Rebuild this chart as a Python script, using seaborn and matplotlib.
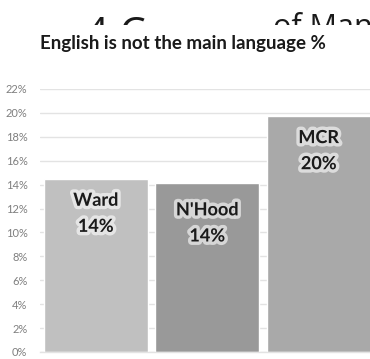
import matplotlib
matplotlib.use("Agg")
import matplotlib.pyplot as plt
import matplotlib.patheffects as pe
from matplotlib.patches import Rectangle
import seaborn as sns
import pandas as pd

categories = ["Ward", "N'Hood", "MCR"]
values = [0.1445, 0.1417, 0.1975]
bar_colors = ["#c0c0c0", "#999999", "#a9a9a9"]
yticks = [0.00, 0.02, 0.04, 0.06, 0.08, 0.10, 0.12, 0.14, 0.16, 0.18, 0.20, 0.22]
title = "English is not the main language %"

sns.set_theme(style="white")
plt.rcParams["font.family"] = ["Lato", "DejaVu Sans"]

W, H = 370, 359
fig = plt.figure(figsize=(W / 100, H / 100), dpi=100)

# plot area in pixel terms
left_px, right_px = 40, 374.5
bottom_px, top_px = 352, 89
ax = fig.add_axes([left_px / W, (H - bottom_px) / H,
                   (right_px - left_px) / W, (bottom_px - top_px) / H])
ax.set_zorder(3)

df = pd.DataFrame({"cat": categories, "val": values})
sns.barplot(data=df, x="cat", y="val", hue="cat", palette=bar_colors,
            legend=False, width=0.935, ax=ax, saturation=1)

ax.set_xlim(-0.5, 2.5)
ax.set_ylim(0, 0.22)
ax.set_yticks(yticks)
ax.set_yticklabels([f"{t:.0%}" for t in yticks], color="#7f7f7f", fontsize=8)
ax.set_xticks([])
ax.set_xlabel("")
ax.set_ylabel("")
ax.tick_params(axis="y", length=0, pad=9)
ax.yaxis.grid(True, color="#e3e3e3", linewidth=1)
ax.set_axisbelow(True)
for side in ["top", "right", "left"]:
    ax.spines[side].set_visible(False)
ax.spines["bottom"].set_color("#e3e3e3")
ax.spines["bottom"].set_linewidth(1)

# value labels sit just inside the top of each bar
glow = [pe.withStroke(linewidth=5, foreground="white", alpha=0.6)]
label_drop_pt = [9, 13.5, 9.5]
for i, (c, v) in enumerate(zip(categories, values)):
    ax.annotate(f"{c}\n{v:.0%}", xy=(i, v), xytext=(0, -label_drop_pt[i]),
                textcoords="offset points", ha="center", va="top",
                fontsize=13, fontweight="bold", color="#1a1a1a",
                linespacing=1.65, path_effects=glow)

# large page heading, partly hidden behind the chart panel
fig.text(85 / W, 1 - 47 / H, "4 C", ha="left", va="baseline",
         fontsize=30, color="#1a1a1a", family=["Open Sans", "DejaVu Sans"],
         zorder=1)
fig.text(273 / W, 1 - 36 / H, "of Man", ha="left", va="baseline",
         fontsize=22, color="#1a1a1a", family=["Open Sans", "DejaVu Sans"],
         zorder=1)
fig.add_artist(Rectangle((0, 0), 1, 1 - 25 / H, transform=fig.transFigure,
                         facecolor="white", edgecolor="none", zorder=2))

fig.text(183 / W, 1 - 44 / H, title, ha="center", va="center",
         fontsize=13.5, fontweight="bold", color="#1a1a1a", zorder=4)

fig.savefig("out.png", dpi=100)
